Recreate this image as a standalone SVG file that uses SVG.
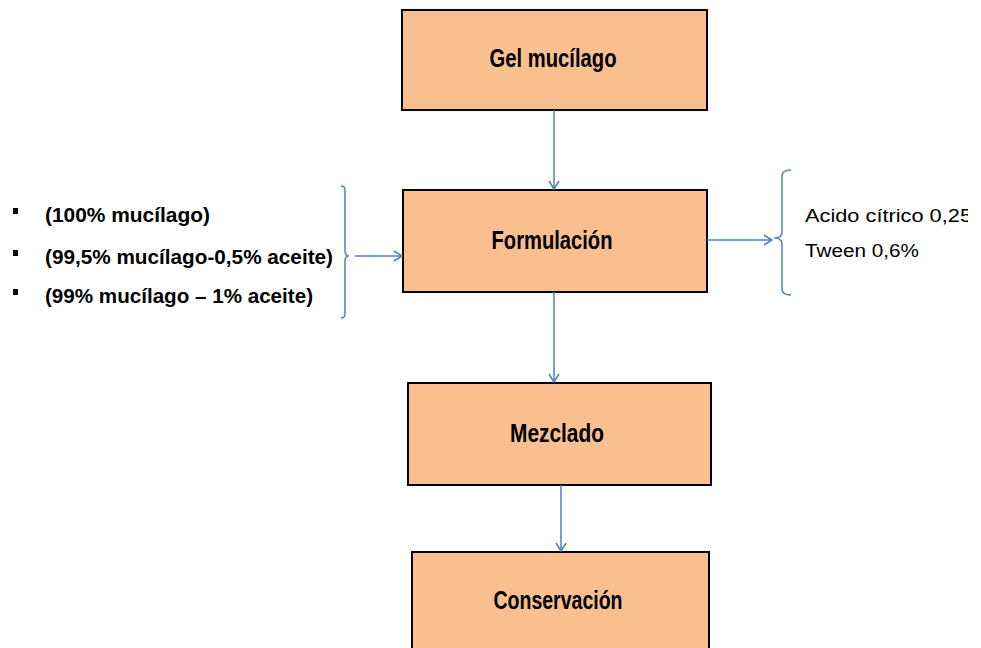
<svg xmlns="http://www.w3.org/2000/svg" width="981" height="648" viewBox="0 0 981 648">
<style>
.box{fill:#F9BF8F;stroke:#000;stroke-width:2}
.lbl{font-family:"Liberation Sans",Arial,sans-serif;font-weight:bold;font-size:25px;fill:#000;text-anchor:middle}
.lt{font-family:"Liberation Sans",Arial,sans-serif;font-weight:bold;font-size:21px;fill:#000}
.rt{font-family:"Liberation Sans",Arial,sans-serif;font-size:18px;fill:#000}
.con{stroke:#4F81BD;stroke-width:1.5;fill:none}
</style>
<defs>
<marker id="ah" markerWidth="12" markerHeight="12" refX="10" refY="6" orient="auto" markerUnits="userSpaceOnUse">
<path d="M2,1 L10,6 L2,11" fill="none" stroke="#4F81BD" stroke-width="1.5"/>
</marker>
<clipPath id="clipR"><rect x="790" y="190" width="178" height="80"/></clipPath>
</defs>
<g id="gel"><rect class="box" x="402" y="10" width="305" height="100"/><text class="lbl" x="553" y="67" textLength="127" lengthAdjust="spacingAndGlyphs">Gel mucílago</text></g>
<g id="formulacion"><rect class="box" x="403" y="190" width="304" height="102"/><text class="lbl" x="552" y="249" textLength="121" lengthAdjust="spacingAndGlyphs">Formulación</text></g>
<g id="mezclado"><rect class="box" x="408" y="383" width="303" height="102"/><text class="lbl" x="557" y="442" textLength="94" lengthAdjust="spacingAndGlyphs">Mezclado</text></g>
<g id="conservacion"><rect class="box" x="412" y="552" width="297" height="110"/><text class="lbl" x="558" y="609" textLength="129" lengthAdjust="spacingAndGlyphs">Conservación</text></g>
<g id="inputs">
<rect x="13" y="208" width="5" height="6" fill="#000"/>
<rect x="13" y="250" width="5" height="6" fill="#000"/>
<rect x="13" y="289" width="5" height="6" fill="#000"/>
<text class="lt" x="45" y="222" textLength="165" lengthAdjust="spacingAndGlyphs">(100% mucílago)</text>
<text class="lt" x="45" y="264" textLength="288" lengthAdjust="spacingAndGlyphs">(99,5% mucílago-0,5% aceite)</text>
<text class="lt" x="45" y="303" textLength="268" lengthAdjust="spacingAndGlyphs">(99% mucílago – 1% aceite)</text>
<path class="con" d="M341,186 Q345,186 345,190 L345,251 Q345,256 349,256 Q345,256 345,261 L345,314 Q345,318 341,318"/>
</g>
<g id="additives">
<path class="con" d="M791,170 Q782,170 782,176 L782,232 Q782,238 774,238 Q782,238 782,244 L782,289 Q782,295 791,295"/>
<g clip-path="url(#clipR)">
<text class="rt" x="805" y="222" textLength="167" lengthAdjust="spacingAndGlyphs">Acido cítrico 0,25</text>
</g>
<text class="rt" x="805" y="257" textLength="114" lengthAdjust="spacingAndGlyphs">Tween 0,6%</text>
</g>
<g id="connectors">
<line class="con" x1="554" y1="110" x2="554" y2="189" marker-end="url(#ah)"/>
<line class="con" x1="554" y1="292" x2="554" y2="382" marker-end="url(#ah)"/>
<line class="con" x1="561" y1="485" x2="561" y2="551" marker-end="url(#ah)"/>
<line class="con" x1="355" y1="256" x2="402" y2="256" marker-end="url(#ah)"/>
<line class="con" x1="707" y1="240" x2="772" y2="240" marker-end="url(#ah)"/>
</g>
</svg>
